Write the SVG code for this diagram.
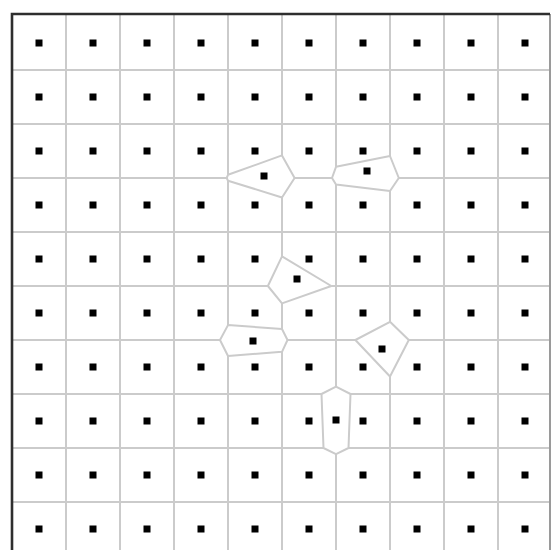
<svg xmlns="http://www.w3.org/2000/svg" width="552" height="550" viewBox="0 0 552 550">
  <style>
    .g { fill: none; stroke: #cbcbcb; stroke-width: 2; stroke-linejoin: round; }
    .cell { fill: none; stroke: #cbcbcb; stroke-width: 2; stroke-linejoin: round; }
    .dot { fill: #000; }
    .frame { fill: none; stroke: #2e2e2e; stroke-width: 2.6; }
  </style>
  <defs>
    <rect id="d" class="dot" x="-3.5" y="-3.5" width="7" height="7"/>
    <pattern id="dots" patternUnits="userSpaceOnUse" x="12" y="16" width="54" height="54">
      <rect class="dot" x="23.5" y="23.5" width="7" height="7"/>
    </pattern>
  </defs>
  <rect width="552" height="550" fill="#fff"/>
  <g id="connectors">
    <path class="g" d="M66 14V550M120 14V550M174 14V550M444 14V550M498 14V550
      M228 14V174.8M228 180.7V325.1M228 356V550
      M282 14V155.4M282 197.5V256.4M282 303.4V329M282 351.8V550
      M336 14V166.8M336 184.6V386.6M336 454.1V550
      M390 14V156M390 191V321.8M390 376.5V550"/>
    <path class="g" d="M12 70H550M12 124H550M12 232H550M12 502H550
      M12 178H226.7M294.6 178H332M398.8 178H550
      M12 286H267.9M331.3 286H550
      M12 340H220M287.5 340H355.4M408.8 340H550
      M12 394H321.5M350.5 394H550
      M12 448H323.5M348.5 448H550"/>
  </g>
  <g id="cell1"><polygon class="cell" points="228,174.8 282,155.4 294.6,178 282,197.5 228,180.7 226.7,178"/><use href="#d" x="264" y="176"/></g>
  <g id="cell2"><polygon class="cell" points="336,166.8 390,156 398.8,178 390,191 336,184.6 332,178"/><use href="#d" x="367" y="171"/></g>
  <g id="cell3"><polygon class="cell" points="282,256.4 331.3,286 282,303.4 267.9,286"/><use href="#d" x="297" y="279"/></g>
  <g id="cell4"><polygon class="cell" points="228,325.1 282,329 287.5,340 282,351.8 228,356 220,340"/><use href="#d" x="253" y="341"/></g>
  <g id="cell5"><polygon class="cell" points="390,321.8 408.8,340 390,376.5 355.4,340"/><use href="#d" x="382" y="349"/></g>
  <g id="cell6"><polygon class="cell" points="336,386.6 350.5,394 348.5,448 336,454.1 323.5,448 321.5,394"/><use href="#d" x="336" y="420"/></g>
  <g id="grid-dots"><rect x="12" y="16" width="540" height="534" fill="url(#dots)"/></g>
  <g id="frame">
    <path d="M550 14V550" fill="none" stroke="#9a9a9a" stroke-width="2"/>
    <path class="frame" d="M12 550V14H550"/>
  </g>
</svg>
